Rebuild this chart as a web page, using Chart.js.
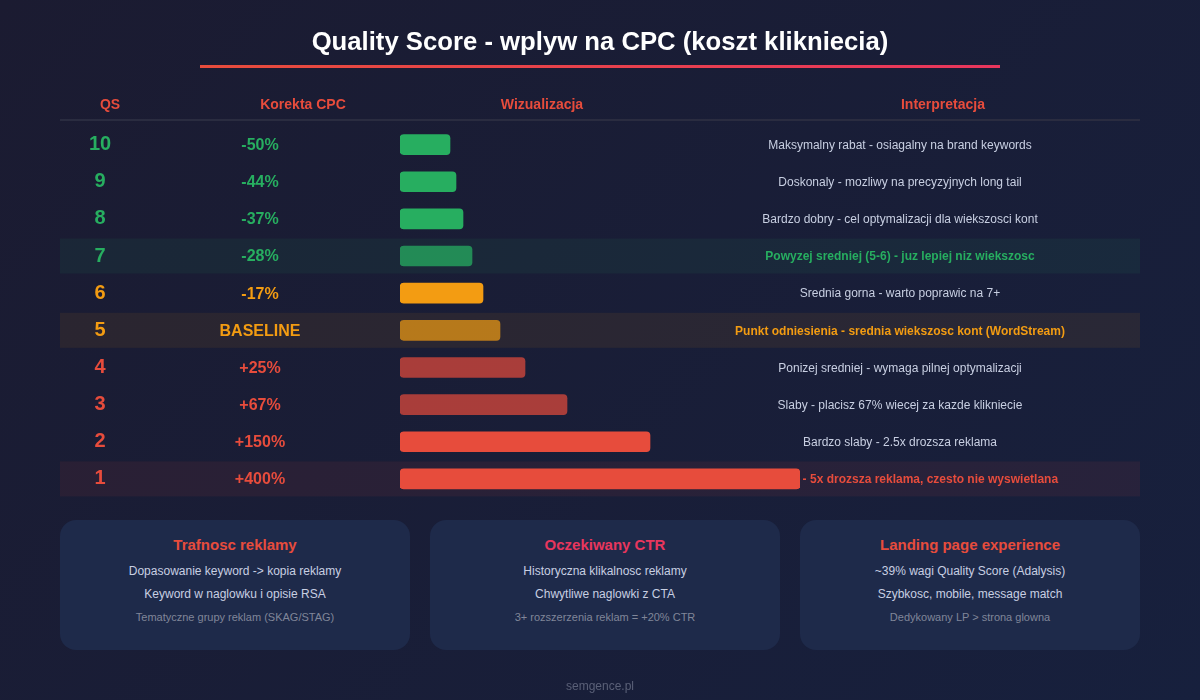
<!DOCTYPE html>
<html>
<head>
<meta charset="utf-8">
<script src="https://cdn.jsdelivr.net/npm/chart.js"></script>
<style>
  html, body { margin:0; padding:0; }
  body {
    width:1200px; height:700px; overflow:hidden; position:relative;
    background: linear-gradient(135deg, #1b1b31 0%, #17203d 100%);
    font-family: "Liberation Sans", Arial, sans-serif;
  }
  #chart { position:absolute; left:0; top:0; z-index:1; }
  .abs { position:absolute; }
  #title { left:0; width:1200px; top:26px; line-height:30px; text-align:center; color:#ffffff; font-weight:bold; font-size:25.7px; z-index:2; }
  #title-line { left:200px; top:65px; width:800px; height:3px; background: linear-gradient(90deg, #e74c3c, #e8365d); z-index:2; }
  .th { top:94px; line-height:20px; color:#e74c3c; font-weight:bold; font-size:14px; text-align:center; width:200px; z-index:2; }
  #head-line { left:60px; top:119px; width:1080px; height:2px; background:#2a2c40; z-index:2; }
  .card { top:520px; height:130px; border-radius:16px; background:#1e2a4a; z-index:2; }
  .card div { position:absolute; left:0; right:0; text-align:center; }
  .card .ct { top:15px; line-height:20px; font-weight:bold; font-size:15px; }
  .card .l1 { top:43px; line-height:16px; font-size:12px; color:#c8cfe2; }
  .card .l2 { top:66px; line-height:16px; font-size:12px; color:#c8cfe2; }
  .card .l3 { top:90px; line-height:14px; font-size:11px; color:#808699; }
  #footer { left:0; width:1200px; top:678px; line-height:16px; text-align:center; font-size:12px; color:#5a6077; z-index:2; }
</style>
</head>
<body>
<canvas id="chart" width="1200" height="700"></canvas>
<div id="title" class="abs">Quality Score - wplyw na CPC (koszt klikniecia)</div>
<div id="title-line" class="abs"></div>
<div class="abs th" style="left:10px;">QS</div>
<div class="abs th" style="left:203px;">Korekta CPC</div>
<div class="abs th" style="left:442px;">Wizualizacja</div>
<div class="abs th" style="left:843px;">Interpretacja</div>
<div id="head-line" class="abs"></div>

<div class="abs card" style="left:60px;width:350px;">
  <div class="ct" style="color:#e74c3c;">Trafnosc reklamy</div>
  <div class="l1">Dopasowanie keyword -&gt; kopia reklamy</div>
  <div class="l2">Keyword w naglowku i opisie RSA</div>
  <div class="l3">Tematyczne grupy reklam (SKAG/STAG)</div>
</div>
<div class="abs card" style="left:430px;width:350px;">
  <div class="ct" style="color:#e8365d;">Oczekiwany CTR</div>
  <div class="l1">Historyczna klikalnosc reklamy</div>
  <div class="l2">Chwytliwe naglowki z CTA</div>
  <div class="l3">3+ rozszerzenia reklam = +20% CTR</div>
</div>
<div class="abs card" style="left:800px;width:340px;">
  <div class="ct" style="color:#e74c3c;">Landing page experience</div>
  <div class="l1">~39% wagi Quality Score (Adalysis)</div>
  <div class="l2">Szybkosc, mobile, message match</div>
  <div class="l3">Dedykowany LP &gt; strona glowna</div>
</div>
<div id="footer" class="abs">semgence.pl</div>

<script>
// ---- data ----
const qsLevels = ['10', '9', '8', '7', '6', '5', '4', '3', '2', '1'];
const cpcAdjustLabels = ['-50%', '-44%', '-37%', '-28%', '-17%', 'BASELINE', '+25%', '+67%', '+150%', '+400%'];
const cpcIndex = [50, 56, 63, 72, 83, 100, 125, 167, 250, 500]; // CPC relative to QS 5 (=100)
const interpretations = [
  'Maksymalny rabat - osiagalny na brand keywords',
  'Doskonaly - mozliwy na precyzyjnych long tail',
  'Bardzo dobry - cel optymalizacji dla wiekszosci kont',
  'Powyzej sredniej (5-6) - juz lepiej niz wiekszosc',
  'Srednia gorna - warto poprawic na 7+',
  'Punkt odniesienia - srednia wiekszosc kont (WordStream)',
  'Ponizej sredniej - wymaga pilnej optymalizacji',
  'Slaby - placisz 67% wiecej za kazde klikniecie',
  'Bardzo slaby - 2.5x drozsza reklama',
  'Krytyczny - 5x drozsza reklama, czesto nie wyswietlana'
];
const highlightRows = [false, false, false, true, false, true, false, false, false, true];
const visualMax = 400;

// ---- styles ----
const GREEN = '#27ae60', ORANGE = '#f39c12', RED = '#e74c3c';
const toneColors = [GREEN, GREEN, GREEN, GREEN, ORANGE, ORANGE, RED, RED, RED, RED];
const barColors = [GREEN, GREEN, GREEN, 'rgba(39,174,96,0.75)', ORANGE, 'rgba(243,156,18,0.7)',
                   'rgba(231,76,60,0.7)', 'rgba(231,76,60,0.7)', RED, RED];
const bandColors = [null, null, null, 'rgba(39,174,96,0.08)', null, 'rgba(243,156,18,0.08)', null, null, null, 'rgba(231,76,60,0.08)'];
const FONT = '"Liberation Sans", Arial, sans-serif';

const tablePlugin = {
  id: 'tableText',
  beforeDatasetsDraw(chart) {
    const ctx = chart.ctx;
    const ys = chart.scales.y;
    ctx.save();
    ctx.textAlign = 'center';
    ctx.textBaseline = 'middle';
    qsLevels.forEach((q, i) => {
      const yc = ys.getPixelForTick(i);
      if (highlightRows[i]) {
        ctx.fillStyle = bandColors[i];
        ctx.fillRect(60, yc - 17.5, 1080, 35);
      }
      ctx.fillStyle = toneColors[i];
      ctx.font = 'bold 20px ' + FONT;
      ctx.fillText(q, 100, yc);
      ctx.font = 'bold 16px ' + FONT;
      ctx.fillText(cpcAdjustLabels[i], 260, yc + 1);
      ctx.font = (highlightRows[i] ? 'bold ' : '') + '12px ' + FONT;
      ctx.fillStyle = highlightRows[i] ? toneColors[i] : '#c8cfe2';
      ctx.fillText(interpretations[i], 900, yc + 1);
    });
    ctx.restore();
  }
};

new Chart(document.getElementById('chart'), {
  type: 'bar',
  data: {
    labels: qsLevels,
    datasets: [{
      data: cpcIndex.map(v => Math.min(v, visualMax)),
      backgroundColor: barColors,
      borderRadius: 4,
      borderSkipped: false,
      barThickness: 20
    }]
  },
  options: {
    indexAxis: 'y',
    responsive: false,
    animation: false,
    devicePixelRatio: 1,
    layout: { padding: { left: 400, right: 400, top: 126, bottom: 202.5 } },
    plugins: { legend: { display: false }, tooltip: { enabled: false }, title: { display: false } },
    scales: {
      x: { display: false, min: 0, max: visualMax },
      y: { display: false, offset: true }
    }
  },
  plugins: [tablePlugin]
});
</script>
</body>
</html>
